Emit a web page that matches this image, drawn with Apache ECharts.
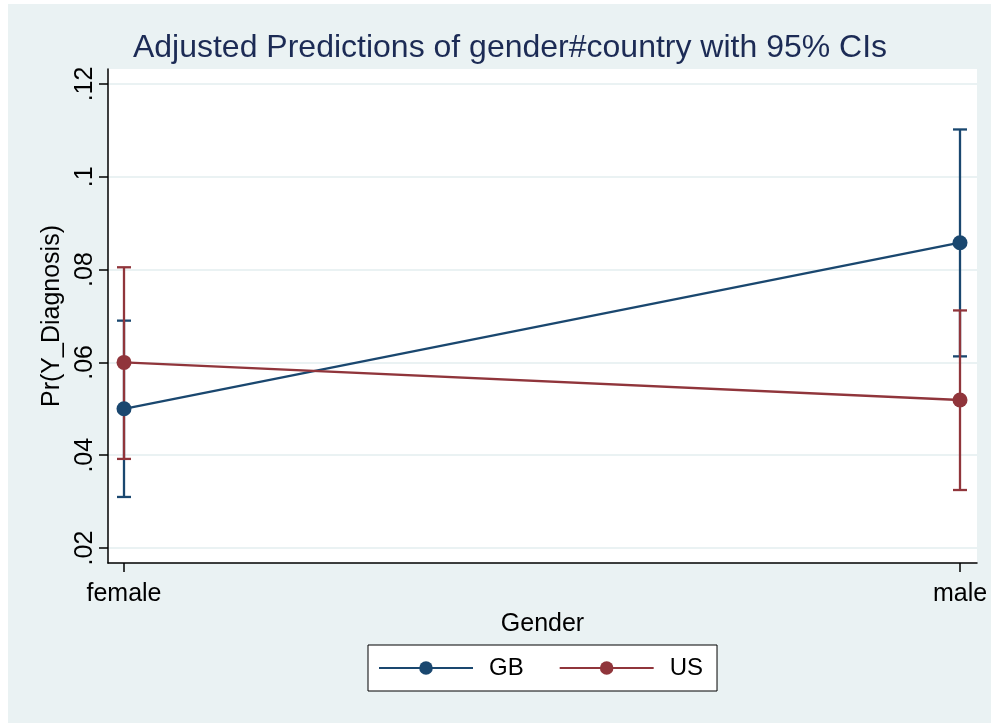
<!DOCTYPE html>
<html>
<head>
<meta charset="utf-8">
<script src="https://cdn.jsdelivr.net/npm/echarts@6/dist/echarts.min.js"></script>
<style>
html,body{margin:0;padding:0;background:#fff;}
#chart{width:991px;height:723px;}
</style>
</head>
<body>
<div id="chart"></div>
<script>
var categories = ['female', 'male'];
var seriesNames = ['GB', 'US'];
var gbMargin = [0.0500, 0.0858];
var gbLower = [0.0310, 0.0613];
var gbUpper = [0.0690, 0.1102];
var usMargin = [0.0600, 0.0519];
var usLower = [0.0392, 0.0325];
var usUpper = [0.0805, 0.0712];
var yTicks = [0.02, 0.04, 0.06, 0.08, 0.10, 0.12];

var NAVY = '#1A476F', MAROON = '#90353B', BG = '#EAF2F3';
var FONT = 'Liberation Sans';

function pts(vals) { return vals.map(function (v, i) { return [i, v]; }); }
function ci(lo, hi) { return lo.map(function (v, i) { return [i, v, hi[i]]; }); }
function errRender(color) {
  return function (params, api) {
    var x = api.value(0);
    var a = api.coord([x, api.value(1)]);
    var b = api.coord([x, api.value(2)]);
    var w = 7;
    var st = { stroke: color, lineWidth: 2.3 };
    return { type: 'group', children: [
      { type: 'line', shape: { x1: a[0], y1: a[1], x2: b[0], y2: b[1] }, style: st },
      { type: 'line', shape: { x1: a[0] - w, y1: a[1], x2: a[0] + w, y2: a[1] }, style: st },
      { type: 'line', shape: { x1: b[0] - w, y1: b[1], x2: b[0] + w, y2: b[1] }, style: st }
    ]};
  };
}
function fmtY(v) {
  var s = String(Math.round(v * 100) / 100);
  return s.replace(/^0\./, '.');
}

var chart = echarts.init(document.getElementById('chart'), null, { renderer: 'canvas' });
chart.setOption({
  backgroundColor: '#fff',
  animation: false,
  textStyle: { fontFamily: FONT },
  graphic: [{ type: 'rect', z: -10, silent: true, shape: { x: 8, y: 4, width: 983, height: 719 }, style: { fill: BG } }],
  title: {
    text: 'Adjusted Predictions of gender#country with 95% CIs',
    left: 505, top: 27, textAlign: 'center',
    textStyle: { fontFamily: FONT, fontSize: 32, fontWeight: 'normal', color: '#1C2B55' }
  },
  grid: { left: 108, top: 69, right: 14, bottom: 160, show: true, backgroundColor: '#fff', borderWidth: 0 },
  legend: {
    data: seriesNames,
    left: 368, top: 645,
    orient: 'horizontal',
    itemWidth: 94, itemHeight: 17, itemGap: 35,
    padding: [9, 14, 9, 10],
    backgroundColor: '#fff', borderColor: '#000', borderWidth: 1, borderRadius: 0,
    textStyle: { fontFamily: FONT, fontSize: 24, color: '#000', padding: [0, 0, 0, 11], lineHeight: 28 }
  },
  xAxis: {
    type: 'value', min: -0.01914, max: 1.02033,
    axisLine: { show: true, onZero: false, lineStyle: { color: '#000', width: 1.5 } },
    axisTick: { show: true, length: 9, customValues: [0, 1], lineStyle: { color: '#000', width: 1.5 } },
    axisLabel: { customValues: [0, 1], margin: 19, fontSize: 25, color: '#000', fontFamily: FONT,
      formatter: function (v) { return categories[Math.round(v)]; } },
    splitLine: { show: false },
    name: 'Gender', nameLocation: 'middle', nameGap: 44,
    nameTextStyle: { fontSize: 25, color: '#000', fontFamily: FONT }
  },
  yAxis: {
    type: 'value', min: 0.01677, max: 0.12323,
    axisLine: { show: true, onZero: false, lineStyle: { color: '#000', width: 1.5 } },
    axisTick: { show: true, length: 9, customValues: yTicks, lineStyle: { color: '#000', width: 1.5 } },
    axisLabel: { customValues: yTicks, rotate: 90, margin: 10, fontSize: 25, color: '#000', fontFamily: FONT, formatter: fmtY },
    splitLine: { show: true, lineStyle: { color: BG, width: 2 } },
    name: 'Pr(Y_Diagnosis)', nameLocation: 'middle', nameGap: 43, nameRotate: 90,
    nameTextStyle: { fontSize: 25, color: '#000', fontFamily: FONT }
  },
  series: [
    { name: 'GB CI', type: 'custom', renderItem: errRender(NAVY), data: ci(gbLower, gbUpper), z: 2, encode: { x: 0, y: [1, 2] } },
    { name: 'US CI', type: 'custom', renderItem: errRender(MAROON), data: ci(usLower, usUpper), z: 3, encode: { x: 0, y: [1, 2] } },
    { name: 'GB', type: 'line', data: pts(gbMargin), symbol: 'circle', symbolSize: 15, z: 4,
      lineStyle: { color: NAVY, width: 2.3 }, itemStyle: { color: NAVY } },
    { name: 'US', type: 'line', data: pts(usMargin), symbol: 'circle', symbolSize: 15, z: 5,
      lineStyle: { color: MAROON, width: 2.3 }, itemStyle: { color: MAROON } }
  ]
});
</script>
</body>
</html>
